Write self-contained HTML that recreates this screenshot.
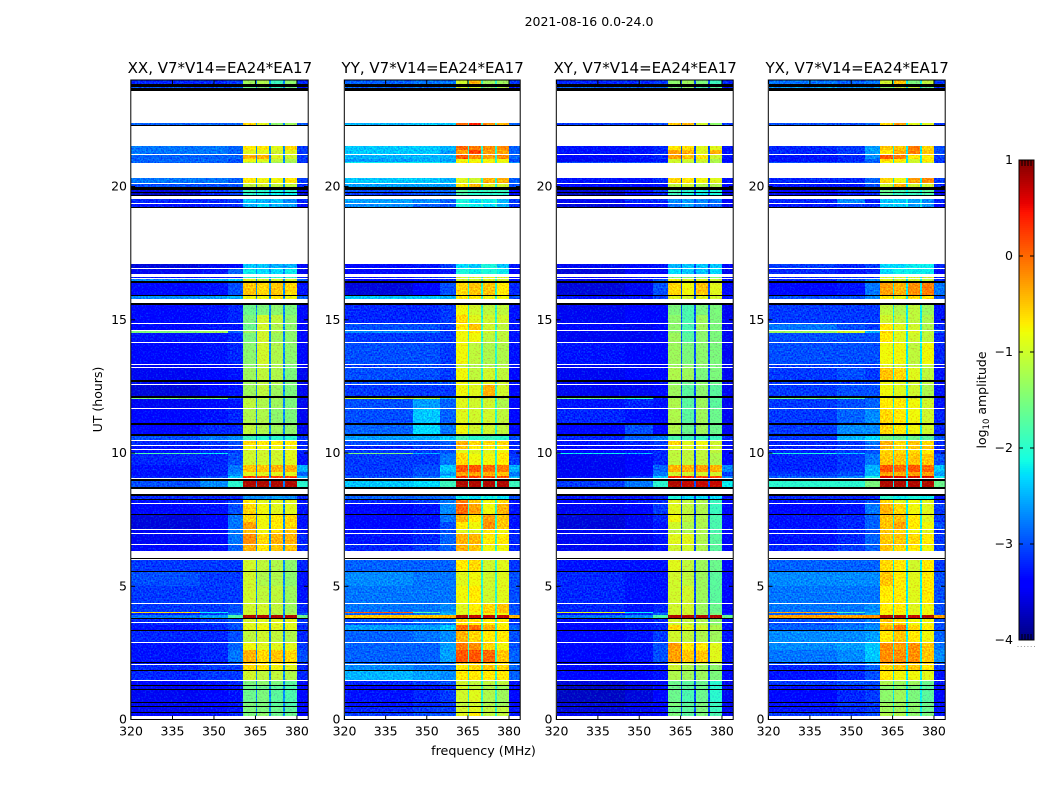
<!DOCTYPE html>
<html>
<head>
<meta charset="utf-8">
<title>2021-08-16 0.0-24.0</title>
<style>
html,body{margin:0;padding:0;background:#fff;}
svg{display:block;}
text{font-family:"DejaVu Sans","Liberation Sans",sans-serif;fill:#000;}
</style>
</head>
<body>
<svg id="chart" width="1050" height="800" viewBox="0 0 1050 800" xmlns="http://www.w3.org/2000/svg">
  <defs>
    <filter id="speckle" x="0" y="0" width="100%" height="100%" color-interpolation-filters="sRGB">
      <feTurbulence type="fractalNoise" baseFrequency="0.62" numOctaves="1" seed="7" result="grain"/>
      <feColorMatrix in="grain" type="matrix" values="0 0 0 0 0.5  1.6 0 0 0 -0.3  0 0 0 0 0.5  0 0 0 0 1" result="greenGrain"/>
      <feComposite in="SourceGraphic" in2="greenGrain" operator="arithmetic" k1="0" k2="1" k3="0.55" k4="-0.275" result="mixed"/>
      <feComposite in="mixed" in2="SourceAlpha" operator="in"/>
    </filter>
  </defs>
  <text x="589" y="26" font-size="12.5" text-anchor="middle">2021-08-16 0.0-24.0</text>
  <text x="483.5" y="755" font-size="12.7" text-anchor="middle">frequency (MHz)</text>
  <text x="102" y="399.5" font-size="12.5" text-anchor="middle" transform="rotate(-90 102 399.5)">UT (hours)</text>
  <text x="986" y="400" font-size="12.5" text-anchor="middle" transform="rotate(-90 986 400)">log<tspan font-size="8.5" dy="3">10</tspan><tspan dy="-3"> amplitude</tspan></text>
</svg>
<script>
// Frequency column edges (MHz): bgL, bgM, bgE, sb1, gap, sb2, gap, sb3, gap, sb4, bgR
const freqEdges = [320,345,355,360.6,365.2,365.5,369.9,370.5,375,375.6,380,384];
const freqTicks = [320,335,350,365,380];
const hourTicks = [0,5,10,15,20];
const colorTicks = [1,0,-1,-2,-3,-4];
const colorLabels = ['1','0','\u22121','\u22122','\u22123','\u22124'];
// Time bands with data [top hour, bottom hour]
const rowBands = [
[24.00,23.85],[23.73,23.70],[22.38,22.31],[21.52,21.37],[21.37,21.22],[21.18,21.05],[21.05,20.92],[20.92,20.88],
[20.32,20.13],[20.09,19.98],[19.87,19.79],[19.76,19.68],[19.53,19.38],[19.34,19.23],[17.09,16.94],[16.90,16.72],
[16.60,16.57],[16.53,16.45],[16.38,15.93],[15.89,15.78],[15.55,15.18],[15.18,14.88],[14.84,14.62],[14.58,14.52],
[14.52,14.17],[14.13,13.34],[13.30,13.23],[13.19,12.74],[12.66,12.59],[12.55,12.14],[12.06,12.02],[12.02,11.69],
[11.65,11.13],[11.05,10.71],[10.64,10.49],[10.45,10.30],[10.26,10.15],[10.11,10.00],[10.00,9.96],[9.96,9.55],
[9.55,9.29],[9.29,9.14],[9.14,9.06],[8.95,8.72],[8.39,8.27],[8.24,8.12],[8.09,7.71],[7.67,7.42],
[7.42,7.15],[7.11,7.00],[6.96,6.59],[6.55,6.32],[5.98,5.57],[5.53,5.00],[5.00,4.37],[4.33,4.03],
[4.03,4.00],[4.00,3.92],[3.92,3.81],[3.77,3.66],[3.62,3.56],[3.53,3.36],[3.32,2.91],[2.87,2.60],
[2.60,2.17],[2.14,2.08],[2.05,1.86],[1.82,1.48],[1.45,1.28],[1.24,1.13],[1.11,0.66],[0.62,0.51],
[0.47,0.28],[0.24,0.13]];
// Time bands flagged black (below colour range)
const blackBands = [
[23.85,23.73],[23.70,23.58],[22.31,22.27],[19.98,19.87],[19.79,19.76],[19.68,19.64],[19.23,19.19],[16.45,16.38],
[15.93,15.89],[15.63,15.55],[12.74,12.66],[12.14,12.06],[11.13,11.05],[10.71,10.64],[9.03,8.95],[8.72,8.65],
[8.46,8.39],[8.27,8.24],[7.71,7.67],[6.06,6.02],[5.57,5.53],[3.81,3.77],[3.36,3.32],[2.17,2.14],
[1.86,1.82],[1.28,1.24],[1.13,1.11],[0.66,0.62],[0.51,0.47],[0.28,0.24]];
// log10 amplitude per band: bgL,bgM,bgE,sb1,sb2,sb3,sb4,bgR
const xxValues = [
[-3.2,-3.2,-3.1,-1.3,-1.2,-1.9,-1.4,-3.2],[-3.0,-3.0,-2.9,-1.6,-1.5,-1.9,-1.6,-3.3],[-2.9,-2.9,-2.9,-0.6,-0.9,-1.4,-1.3,-3.0],[-2.8,-2.8,-2.9,-0.7,-0.7,-0.9,-0.6,-3.1],
[-2.8,-2.8,-2.9,-0.9,-0.9,-1.0,-0.9,-3.1],[-2.9,-2.9,-2.9,-0.4,-0.4,-0.9,-1.0,-3.1],[-2.9,-2.9,-3.0,-0.8,-0.9,-1.1,-1.2,-3.1],[-2.9,-2.9,-3.0,-1.2,-1.2,-1.3,-1.3,-3.2],
[-2.8,-2.8,-2.9,-0.7,-0.8,-0.8,-0.7,-3.1],[-3.0,-3.0,-3.0,-1.1,-1.0,-1.1,-1.1,-3.2],[-3.6,-3.1,-3.0,-1.9,-2.0,-2.1,-2.0,-3.5],[-3.7,-3.2,-3.1,-2.0,-2.1,-2.2,-2.2,-3.6],
[-3.2,-3.2,-3.1,-2.4,-2.5,-2.4,-2.7,-3.2],[-3.3,-3.2,-3.2,-2.5,-2.3,-2.5,-2.6,-3.4],[-3.6,-3.5,-3.4,-2.4,-2.4,-2.5,-2.5,-3.4],[-3.5,-3.3,-2.9,-2.2,-2.3,-2.3,-2.2,-3.5],
[-3.3,-3.3,-3.3,-2.0,-1.9,-2.0,-2.0,-3.3],[-2.7,-2.5,-2.4,-0.9,-1.0,-1.0,-1.0,-2.9],[-3.4,-3.3,-3.0,-0.5,-0.6,-0.5,-0.6,-3.3],[-2.7,-2.6,-2.5,-0.8,-0.8,-0.7,-0.8,-2.9],
[-3.4,-3.3,-3.2,-1.6,-1.5,-1.4,-1.5,-3.4],[-3.4,-3.3,-3.2,-1.5,-1.0,-1.1,-1.4,-3.4],[-3.4,-3.3,-3.3,-1.6,-1.0,-1.2,-1.4,-3.4],[-1.5,-1.3,-2.9,-1.3,-1.0,-1.2,-1.4,-3.4],
[-3.3,-3.3,-3.2,-1.5,-1.0,-1.3,-1.4,-3.4],[-3.4,-3.3,-3.2,-1.4,-1.0,-1.2,-1.4,-3.4],[-3.5,-3.4,-3.3,-1.4,-1.1,-1.2,-1.5,-3.4],[-3.5,-3.4,-3.3,-1.3,-1.1,-1.2,-1.5,-3.5],
[-3.5,-3.4,-3.3,-1.3,-1.1,-1.2,-1.5,-3.5],[-3.6,-3.4,-3.3,-1.3,-1.1,-1.3,-1.5,-3.5],[-1.5,-1.6,-3.0,-1.2,-1.1,-1.3,-1.5,-3.4],[-3.5,-3.4,-3.3,-1.1,-1.2,-1.3,-1.5,-3.5],
[-3.4,-3.3,-3.2,-1.2,-1.2,-1.4,-1.5,-3.5],[-3.4,-3.2,-3.2,-1.1,-1.2,-1.3,-1.4,-3.5],[-3.0,-2.8,-2.7,-1.9,-2.0,-2.0,-2.0,-3.1],[-3.2,-3.1,-3.0,-0.6,-0.7,-0.7,-0.7,-3.2],
[-3.3,-3.2,-3.1,-0.8,-0.8,-0.8,-0.8,-3.2],[-3.3,-3.2,-3.1,-1.0,-1.0,-1.0,-0.9,-3.2],[-1.8,-2.2,-3.0,-1.0,-1.0,-1.0,-0.9,-3.2],[-3.2,-3.2,-3.0,-1.0,-1.0,-1.0,-0.9,-3.3],
[-3.3,-3.2,-2.8,-0.5,-0.5,-0.4,-0.4,-2.5],[-3.3,-3.2,-2.7,-0.9,-0.9,-0.9,-0.9,-2.9],[-3.2,-3.0,-2.4,0.3,0.2,0.2,0.2,-2.5],[-3.0,-2.7,-2.0,0.8,0.8,0.8,0.8,-2.0],
[-3.2,-3.2,-3.2,-2.7,-2.7,-2.6,-2.7,-3.2],[-3.3,-3.3,-3.1,-0.7,-0.9,-0.9,-0.9,-3.3],[-3.4,-3.3,-3.0,-0.6,-0.8,-0.9,-0.9,-3.3],[-3.6,-3.4,-2.8,-0.6,-0.8,-0.7,-0.6,-3.3],
[-3.6,-3.4,-2.8,-0.3,-0.8,-0.7,-0.6,-3.3],[-3.5,-3.4,-2.8,-0.5,-0.8,-0.6,-0.5,-3.3],[-3.5,-3.4,-2.8,-0.2,-0.6,-0.4,-0.4,-3.2],[-3.4,-3.3,-2.9,-0.4,-0.7,-0.5,-0.5,-3.2],
[-3.1,-3.1,-3.1,-1.0,-1.1,-1.2,-1.4,-3.2],[-3.0,-3.1,-3.1,-1.0,-1.2,-1.2,-1.4,-3.3],[-3.1,-3.1,-3.1,-1.0,-1.1,-1.1,-1.3,-3.3],[-3.1,-3.1,-3.0,-1.0,-1.0,-1.1,-1.3,-3.2],
[-0.6,-2.2,-3.0,-1.0,-1.0,-1.1,-1.3,-3.2],[-3.2,-3.1,-2.8,-1.0,-1.0,-1.2,-1.2,-3.0],[-2.8,-2.6,-1.8,0.8,0.8,0.8,0.8,-1.6],[-3.2,-3.1,-3.0,-1.0,-0.9,-0.9,-0.9,-3.1],
[-3.2,-3.1,-3.0,-0.9,-0.9,-0.9,-0.9,-3.1],[-3.3,-3.2,-3.0,-0.9,-0.8,-0.9,-0.9,-3.2],[-3.2,-3.2,-3.0,-1.1,-1.0,-1.1,-1.2,-3.2],[-3.3,-3.2,-2.9,-0.8,-0.9,-0.9,-0.9,-3.1],
[-3.3,-3.2,-2.8,-0.4,-0.6,-0.5,-0.6,-3.0],[-3.3,-3.3,-3.0,-0.5,-0.7,-0.7,-0.8,-3.2],[-3.2,-3.1,-3.1,-0.6,-0.7,-0.8,-0.9,-3.2],[-3.2,-3.1,-3.1,-1.0,-1.1,-1.1,-1.2,-3.2],
[-3.4,-3.3,-3.2,-1.5,-1.4,-1.5,-1.7,-3.4],[-3.5,-3.4,-3.3,-1.6,-1.6,-1.7,-1.8,-3.4],[-3.5,-3.4,-3.3,-1.6,-1.5,-1.7,-1.8,-3.4],[-3.5,-3.4,-3.3,-1.5,-1.5,-1.7,-1.8,-3.4],
[-3.5,-3.4,-3.3,-1.5,-1.5,-1.6,-1.7,-3.4],[-3.4,-3.3,-3.2,-1.5,-1.4,-1.6,-1.6,-3.4]];
const yyValues = [
[-2.9,-2.8,-2.8,-1.0,-0.4,-1.3,-1.3,-3.1],[-2.9,-2.9,-2.8,-1.0,-1.0,-1.4,-1.2,-3.2],[-2.5,-2.4,-2.4,0.0,0.4,-0.2,-0.4,-2.9],[-2.4,-2.4,-2.5,0.0,-0.1,-0.2,-0.2,-2.9],
[-2.4,-2.4,-2.6,-0.3,0.2,-0.3,-0.3,-2.9],[-2.5,-2.5,-2.5,0.1,-0.2,-0.3,-0.2,-2.9],[-2.6,-2.5,-2.6,-0.8,-0.8,-0.8,-0.8,-3.0],[-2.2,-2.2,-2.3,-0.7,-0.7,-0.7,-0.9,-2.7],
[-2.4,-2.4,-2.5,-0.9,-1.0,-0.4,-0.4,-2.9],[-2.6,-2.6,-2.6,-0.7,-0.4,-0.9,-1.0,-3.0],[-3.0,-2.9,-2.9,-1.7,-1.9,-1.9,-1.9,-3.4],[-3.1,-3.0,-2.9,-1.8,-2.0,-2.0,-2.0,-3.4],
[-2.6,-2.7,-2.9,-2.1,-2.3,-2.2,-2.5,-3.1],[-2.7,-2.9,-3.0,-2.1,-2.2,-2.3,-2.5,-3.2],[-3.4,-3.3,-3.1,-2.3,-2.4,-2.1,-2.4,-3.3],[-3.4,-3.4,-3.3,-2.1,-2.2,-2.1,-2.2,-3.4],
[-3.3,-3.2,-3.2,-1.0,-1.0,-0.9,-1.0,-3.3],[-3.4,-3.3,-3.2,-1.0,-1.0,-0.9,-1.0,-3.4],[-3.6,-3.4,-3.0,-0.6,-0.5,-0.5,-0.7,-3.2],[-2.4,-2.4,-2.5,-0.7,-0.7,-0.8,-0.8,-3.0],
[-3.2,-3.2,-3.1,-0.8,-1.0,-1.1,-1.1,-3.3],[-3.2,-3.2,-3.1,-0.6,-0.9,-1.0,-1.0,-3.3],[-3.0,-3.0,-3.1,-0.7,-0.5,-1.0,-1.1,-3.3],[-2.7,-2.8,-3.1,-0.8,-0.7,-1.0,-1.1,-3.3],
[-3.1,-3.1,-3.1,-0.8,-0.8,-1.1,-1.1,-3.3],[-3.0,-3.0,-3.1,-0.8,-1.1,-1.2,-1.2,-3.3],[-3.1,-3.1,-3.1,-1.1,-1.2,-1.2,-1.2,-3.3],[-3.0,-3.0,-3.1,-0.8,-1.1,-1.0,-1.1,-3.4],
[-3.0,-3.0,-3.0,-0.8,-0.9,-0.9,-1.0,-3.3],[-3.1,-3.1,-3.1,-0.8,-0.9,-0.4,-1.0,-3.4],[-1.0,-1.1,-2.5,-0.9,-1.0,-1.1,-1.1,-3.3],[-3.0,-2.6,-2.9,-0.9,-1.0,-1.0,-1.2,-3.4],
[-3.0,-2.4,-2.9,-0.9,-1.0,-1.0,-1.1,-3.4],[-2.9,-2.3,-2.8,-0.8,-1.0,-1.0,-1.1,-3.4],[-2.6,-2.5,-2.4,-1.8,-2.0,-1.9,-2.0,-3.0],[-3.0,-3.0,-2.9,-0.4,-0.6,-0.6,-0.6,-3.2],
[-3.2,-3.1,-3.0,-0.5,-0.7,-0.7,-0.7,-3.2],[-3.1,-3.1,-3.0,-0.9,-0.9,-0.9,-0.8,-3.2],[-1.5,-2.5,-2.9,-0.7,-0.9,-0.9,-0.7,-3.2],[-3.1,-3.1,-2.8,-0.6,-0.8,-0.8,-0.7,-3.1],
[-3.1,-3.0,-2.4,0.1,0.1,0.0,-0.1,-2.5],[-3.1,-3.0,-2.6,-0.3,-0.3,-0.4,-0.5,-2.8],[-3.0,-2.8,-2.3,0.3,0.2,0.2,0.2,-2.5],[-2.4,-2.3,-1.9,0.8,0.8,0.8,0.8,-1.9],
[-2.9,-2.9,-2.8,-2.2,-2.3,-2.2,-2.3,-3.0],[-3.2,-3.1,-2.8,-0.1,-0.5,-0.8,-0.6,-3.3],[-3.4,-3.3,-2.7,0.0,-0.3,-0.8,-0.4,-3.3],[-3.4,-3.3,-2.8,-0.4,-0.7,-0.3,-0.5,-3.3],
[-3.4,-3.3,-3.0,-0.7,-0.8,-0.2,-0.5,-3.3],[-3.3,-3.2,-3.0,-0.9,-0.9,-0.7,-0.8,-3.2],[-3.3,-3.2,-2.9,-0.4,-0.4,-0.7,-0.7,-3.2],[-3.2,-3.1,-2.9,-0.4,-0.5,-0.8,-0.8,-3.2],
[-2.9,-2.9,-2.9,-0.7,-0.6,-1.0,-0.9,-3.1],[-2.7,-2.8,-2.8,-0.9,-0.8,-1.0,-0.9,-3.0],[-2.8,-2.8,-2.8,-0.8,-0.7,-1.0,-0.9,-3.0],[-2.8,-2.8,-2.7,-0.9,-0.7,-0.6,-0.5,-3.0],
[0.1,-1.7,-2.6,-0.9,-0.8,-0.5,-0.5,-3.0],[-2.9,-2.8,-2.5,-0.9,-0.8,-0.8,-0.8,-2.9],[-0.5,-0.5,-0.4,0.8,0.7,0.7,0.7,-0.4],[-3.0,-2.9,-2.8,-0.6,-0.7,-0.7,-0.7,-3.1],
[-3.0,-2.9,-2.8,-0.7,-0.7,-0.7,-0.8,-3.1],[-2.6,-2.6,-2.4,0.0,0.0,-0.4,-0.7,-2.9],[-2.9,-2.8,-2.7,-0.4,-0.6,-0.7,-0.7,-3.0],[-2.9,-2.9,-2.6,-0.1,-0.2,-0.6,-0.8,-3.0],
[-2.9,-2.9,-2.6,0.1,0.1,0.0,-0.5,-2.9],[-2.9,-2.9,-2.8,-0.5,-0.5,-0.6,-0.7,-2.9],[-2.7,-2.8,-2.8,-0.7,-0.6,-0.5,-0.6,-2.9],[-2.5,-2.6,-2.7,-0.7,-0.7,-0.7,-0.7,-2.9],
[-3.2,-3.1,-3.0,-1.0,-1.1,-1.1,-1.1,-3.3],[-3.4,-3.3,-3.2,-1.0,-1.1,-1.2,-1.3,-3.4],[-3.3,-3.2,-3.1,-1.0,-0.9,-1.2,-1.3,-3.4],[-3.3,-3.2,-3.1,-1.1,-1.0,-1.2,-1.3,-3.4],
[-3.2,-3.1,-3.1,-1.0,-0.9,-1.1,-1.1,-3.3],[-3.1,-3.0,-3.0,-0.9,-0.7,-1.1,-1.1,-3.3]];
const xyValues = [
[-3.2,-3.2,-3.1,-1.4,-1.3,-1.5,-1.9,-3.2],[-2.9,-2.9,-2.9,-1.5,-1.4,-1.8,-1.7,-3.3],[-3.1,-3.1,-3.0,-0.5,-0.4,-1.0,-1.4,-3.1],[-3.3,-3.3,-3.2,-0.7,-0.6,-0.9,-0.9,-3.3],
[-3.3,-3.3,-3.2,-0.3,-0.4,-0.9,-0.4,-3.3],[-3.4,-3.3,-3.2,-0.3,-0.5,-0.7,-1.0,-3.3],[-3.5,-3.4,-3.3,-1.0,-1.0,-1.0,-1.2,-3.4],[-3.0,-3.0,-3.0,-1.0,-1.1,-1.1,-1.2,-3.2],
[-3.3,-3.3,-3.2,-0.6,-0.7,-0.8,-0.9,-3.3],[-3.4,-3.4,-3.3,-1.1,-1.0,-1.2,-1.2,-3.4],[-3.6,-3.3,-3.1,-1.8,-2.0,-2.1,-2.0,-3.5],[-3.7,-3.4,-3.2,-1.9,-2.1,-2.2,-2.1,-3.6],
[-3.5,-3.2,-3.2,-2.7,-2.6,-2.7,-2.8,-3.4],[-3.6,-3.4,-3.3,-2.8,-2.6,-2.8,-2.9,-3.5],[-3.5,-3.4,-3.3,-2.5,-2.4,-2.4,-2.4,-3.4],[-3.6,-3.4,-3.4,-2.3,-2.4,-2.4,-2.3,-3.5],
[-3.4,-3.3,-3.3,-1.5,-1.5,-1.5,-1.5,-3.4],[-3.5,-3.3,-3.0,-0.8,-0.9,-0.9,-1.0,-3.3],[-3.6,-3.5,-3.0,-0.6,-0.8,-0.5,-0.9,-3.4],[-3.3,-3.3,-3.1,-0.9,-1.0,-0.9,-1.0,-3.3],
[-3.5,-3.4,-3.4,-1.5,-1.8,-1.5,-1.5,-3.5],[-3.5,-3.4,-3.4,-1.4,-1.8,-1.3,-1.5,-3.5],[-3.4,-3.5,-3.4,-1.4,-1.8,-1.3,-1.5,-3.5],[-3.5,-3.5,-3.4,-1.4,-1.8,-1.4,-1.5,-3.5],
[-3.5,-3.5,-3.4,-1.3,-1.7,-1.4,-1.5,-3.5],[-3.3,-3.4,-3.4,-1.3,-1.5,-1.4,-1.5,-3.5],[-3.5,-3.5,-3.4,-1.3,-1.4,-1.4,-1.5,-3.5],[-3.5,-3.4,-3.4,-1.2,-1.3,-1.5,-1.5,-3.5],
[-3.5,-3.5,-3.4,-1.4,-1.6,-1.4,-1.6,-3.5],[-3.5,-3.5,-3.4,-1.3,-1.7,-1.4,-1.7,-3.5],[-1.6,-2.0,-3.2,-1.3,-1.7,-1.3,-1.7,-3.5],[-3.3,-3.2,-3.3,-1.2,-1.7,-1.3,-1.7,-3.5],
[-3.2,-3.3,-3.4,-1.2,-1.7,-1.3,-1.6,-3.5],[-3.4,-3.0,-3.4,-1.2,-1.6,-1.3,-1.6,-3.5],[-3.2,-2.9,-2.8,-1.8,-1.9,-1.9,-1.9,-3.2],[-3.3,-3.2,-3.1,-0.6,-0.9,-0.8,-1.0,-3.3],
[-3.4,-3.3,-3.2,-0.9,-0.9,-0.9,-1.0,-3.4],[-3.4,-3.3,-3.2,-1.1,-1.1,-1.1,-1.1,-3.4],[-2.2,-2.5,-3.2,-1.1,-1.1,-1.1,-1.2,-3.4],[-3.5,-3.4,-3.2,-1.1,-1.1,-1.1,-1.2,-3.4],
[-3.5,-3.4,-2.9,-0.4,-0.4,-0.3,-0.4,-2.7],[-3.5,-3.4,-2.8,-1.0,-1.0,-1.0,-1.0,-3.1],[-3.4,-3.1,-2.4,0.3,0.3,0.2,0.2,-2.7],[-3.1,-2.8,-2.0,0.8,0.7,0.7,0.7,-2.2],
[-3.3,-3.3,-3.2,-2.1,-2.3,-2.3,-2.3,-3.3],[-3.4,-3.3,-3.2,-0.9,-1.1,-1.2,-1.9,-3.4],[-3.5,-3.4,-3.1,-0.9,-1.1,-1.2,-1.9,-3.4],[-3.6,-3.5,-3.2,-0.8,-1.1,-1.2,-1.8,-3.4],
[-3.6,-3.5,-3.3,-1.0,-1.2,-1.2,-1.8,-3.4],[-3.5,-3.5,-3.3,-1.1,-1.2,-1.2,-1.8,-3.4],[-3.5,-3.5,-3.3,-0.9,-0.9,-1.2,-1.7,-3.4],[-3.5,-3.5,-3.3,-1.0,-1.0,-1.2,-1.7,-3.4],
[-3.3,-3.3,-3.3,-0.9,-1.1,-1.3,-1.6,-3.4],[-3.2,-3.3,-3.3,-1.0,-1.1,-1.3,-1.7,-3.4],[-3.2,-3.3,-3.3,-1.0,-1.0,-1.3,-1.7,-3.4],[-3.2,-3.3,-3.2,-1.0,-1.0,-1.3,-1.6,-3.4],
[-0.9,-2.2,-3.1,-1.0,-1.0,-1.3,-1.6,-3.4],[-3.3,-3.2,-2.9,-1.0,-1.0,-1.3,-1.5,-3.2],[-2.8,-2.7,-1.8,0.8,0.8,0.8,0.8,-1.6],[-3.4,-3.3,-3.2,-1.0,-1.1,-1.2,-1.4,-3.3],
[-3.4,-3.3,-3.2,-1.0,-1.1,-1.2,-1.4,-3.3],[-3.4,-3.3,-3.2,-0.6,-0.9,-1.0,-1.2,-3.3],[-3.4,-3.3,-3.1,-1.0,-1.1,-1.2,-1.3,-3.3],[-3.4,-3.3,-3.0,-0.3,-0.7,-0.7,-0.9,-3.3],
[-3.4,-3.3,-3.0,-0.3,-0.5,-0.5,-0.9,-3.3],[-3.5,-3.4,-3.2,-0.9,-1.1,-1.1,-1.2,-3.4],[-3.4,-3.4,-3.3,-1.0,-1.2,-1.3,-1.4,-3.4],[-3.4,-3.4,-3.3,-1.2,-1.3,-1.3,-1.5,-3.4],
[-3.6,-3.5,-3.4,-1.6,-1.7,-1.6,-2.0,-3.5],[-3.7,-3.6,-3.4,-1.6,-1.7,-1.6,-2.0,-3.5],[-3.7,-3.6,-3.4,-1.6,-1.8,-1.6,-2.0,-3.5],[-3.6,-3.5,-3.4,-1.5,-1.7,-1.5,-1.9,-3.5],
[-3.6,-3.5,-3.4,-1.6,-1.7,-1.5,-1.9,-3.5],[-3.5,-3.5,-3.4,-1.5,-1.7,-1.5,-1.8,-3.5]];
const yxValues = [
[-2.8,-2.9,-2.8,-1.0,-0.5,-1.5,-1.1,-3.1],[-2.6,-2.7,-2.7,-1.4,-1.1,-1.1,-1.6,-3.2],[-3.0,-3.0,-2.9,-0.6,-0.3,-0.9,-0.9,-3.1],[-3.2,-3.1,-2.6,-0.5,-0.5,-0.1,-0.6,-3.0],
[-3.2,-3.1,-2.6,-0.7,-0.4,-0.1,-0.5,-3.0],[-3.3,-3.2,-2.7,0.1,-0.1,-0.7,-0.7,-3.1],[-3.3,-3.2,-2.9,-0.6,-0.7,-1.0,-0.7,-3.1],[-3.0,-3.0,-2.9,-0.8,-0.9,-1.0,-1.0,-3.1],
[-3.2,-3.2,-2.9,-0.6,-0.8,-0.3,-0.2,-3.1],[-3.3,-3.3,-3.0,-1.0,-0.4,-1.0,-1.0,-3.2],[-3.4,-3.2,-3.1,-1.6,-1.8,-1.8,-1.7,-3.5],[-3.5,-3.3,-3.2,-1.7,-1.9,-1.9,-1.8,-3.5],
[-3.2,-2.7,-3.2,-2.4,-2.4,-2.6,-2.7,-3.2],[-3.3,-3.1,-3.2,-2.4,-2.4,-2.6,-2.7,-3.4],[-3.1,-3.2,-3.1,-2.3,-2.3,-2.2,-2.2,-3.2],[-3.2,-3.3,-3.2,-2.3,-2.2,-2.2,-2.2,-3.4],
[-3.2,-3.2,-3.2,-1.0,-1.0,-1.0,-1.0,-3.3],[-3.2,-3.0,-2.7,-0.9,-1.0,-1.0,-1.1,-3.2],[-3.4,-3.3,-2.8,-0.3,-0.4,-0.2,-0.1,-2.8],[-3.0,-3.0,-2.7,-0.7,-0.8,-0.6,-0.7,-3.0],
[-3.1,-3.1,-3.1,-1.1,-1.2,-1.1,-1.3,-3.3],[-3.1,-3.1,-3.1,-1.0,-1.1,-1.1,-1.2,-3.3],[-2.8,-3.0,-3.1,-0.7,-0.9,-1.0,-1.2,-3.2],[-1.3,-1.0,-2.5,-0.6,-0.9,-0.9,-1.1,-3.0],
[-3.0,-3.0,-3.0,-0.7,-0.9,-1.0,-1.1,-3.2],[-3.0,-3.0,-3.0,-0.8,-0.8,-1.1,-0.8,-3.2],[-3.1,-3.1,-3.1,-0.9,-1.0,-1.1,-1.1,-3.3],[-3.1,-3.0,-3.1,-0.5,-0.6,-0.9,-1.1,-3.3],
[-3.1,-3.1,-3.1,-0.8,-0.9,-1.0,-1.1,-3.3],[-3.1,-3.0,-3.0,-0.8,-0.9,-1.0,-1.2,-3.3],[-1.6,-1.8,-2.9,-0.8,-0.9,-1.0,-1.2,-3.3],[-3.1,-3.0,-2.9,-0.7,-0.7,-0.8,-1.0,-3.3],
[-3.1,-2.9,-2.7,-0.6,-0.7,-0.8,-1.0,-3.2],[-3.1,-2.7,-2.7,-0.6,-0.7,-0.8,-1.0,-3.2],[-3.1,-2.5,-2.3,-1.5,-1.6,-1.6,-1.7,-3.0],[-3.2,-3.1,-2.8,-0.4,-0.6,-0.5,-0.6,-3.2],
[-3.2,-3.1,-2.9,-0.4,-0.6,-0.5,-0.5,-3.2],[-3.2,-3.1,-3.0,-0.6,-0.6,-0.6,-0.7,-3.2],[-2.1,-2.4,-2.9,-0.6,-0.6,-0.6,-0.7,-3.2],[-3.2,-3.1,-2.8,-0.5,-0.5,-0.5,-0.5,-3.0],
[-3.2,-3.1,-2.5,0.1,0.0,0.1,0.0,-2.4],[-3.1,-3.0,-2.5,-0.3,-0.4,-0.3,-0.3,-2.6],[-2.9,-2.7,-2.1,0.6,0.6,0.6,0.6,-2.2],[-2.0,-2.0,-1.5,0.8,0.8,0.8,0.8,-1.6],
[-3.2,-3.2,-3.2,-2.0,-2.2,-2.1,-2.2,-3.3],[-3.3,-3.2,-3.0,-0.6,-0.9,-0.8,-0.9,-3.2],[-3.4,-3.3,-2.8,-0.4,-0.6,-0.8,-0.9,-3.1],[-3.3,-3.2,-2.9,-0.5,-0.5,-0.7,-0.9,-3.1],
[-3.3,-3.2,-2.9,-0.5,-0.3,-0.7,-0.8,-3.0],[-3.3,-3.2,-3.0,-0.5,-0.6,-0.8,-0.9,-3.2],[-3.3,-3.2,-2.9,-0.5,-0.5,-0.6,-0.7,-3.1],[-3.2,-3.1,-2.9,-0.5,-0.6,-0.7,-0.8,-3.1],
[-2.9,-2.9,-2.9,-0.6,-0.7,-1.0,-0.7,-3.1],[-2.7,-2.7,-2.7,-0.5,-0.7,-0.9,-0.7,-3.0],[-2.8,-2.8,-2.8,-0.7,-0.7,-0.9,-0.7,-3.0],[-2.8,-2.8,-2.7,-0.7,-0.7,-0.9,-0.8,-3.0],
[-0.3,-1.8,-2.6,-0.7,-0.7,-0.8,-0.8,-3.0],[-2.9,-2.8,-2.5,-0.8,-0.8,-0.9,-0.8,-3.0],[-0.3,-0.3,-0.2,0.8,0.8,0.7,0.8,-0.3],[-3.0,-2.9,-2.8,-0.5,-0.6,-0.8,-0.8,-3.0],
[-3.0,-2.9,-2.8,-0.6,-0.6,-0.8,-0.8,-3.0],[-2.9,-2.8,-2.7,-0.4,-0.1,-0.6,-0.7,-3.0],[-2.7,-2.7,-2.6,-0.7,-0.5,-0.7,-0.8,-2.9],[-2.7,-2.6,-2.4,-0.2,-0.3,-0.2,-0.5,-2.8],
[-2.8,-2.7,-2.4,-0.2,-0.2,-0.2,-0.5,-2.7],[-3.0,-2.9,-2.7,-0.3,-0.4,-0.5,-0.6,-3.0],[-3.2,-3.1,-2.9,-0.6,-0.5,-0.5,-0.7,-3.1],[-3.3,-3.2,-3.0,-0.7,-0.8,-0.8,-0.9,-3.3],
[-3.1,-3.0,-3.0,-1.2,-1.3,-1.3,-1.6,-3.3],[-3.3,-3.2,-3.1,-1.4,-1.4,-1.5,-1.7,-3.4],[-3.4,-3.2,-3.1,-1.4,-1.3,-1.5,-1.7,-3.4],[-3.3,-3.1,-3.1,-1.3,-1.3,-1.4,-1.6,-3.3],
[-3.3,-3.2,-3.1,-1.3,-1.3,-1.4,-1.6,-3.3],[-3.1,-3.1,-3.0,-1.2,-1.2,-1.4,-1.5,-3.3]];
// Gap channel amplitude between sub-bands, one per panel: XX, YY, XY, YX
const gapValues = [-2.7,-2.0,-3.0,-2.2];
const panelTitles = ['XX, V7*V14=EA24*EA17','YY, V7*V14=EA24*EA17','XY, V7*V14=EA24*EA17','YX, V7*V14=EA24*EA17'];
const panelKeys = ['xx','yy','xy','yx'];
const panelValues = [xxValues,yyValues,xyValues,yxValues];
const panelLeft = [131,344.5,556.5,768.5];
const panelRight = [308,520,733,945];

const NS = 'http://www.w3.org/2000/svg';
const svg = document.getElementById('chart');
const axisTop = 80, axisBottom = 719.5;
const hourMax = 24;
const freqMin = 320, freqMax = 384;
const cbLeft = 1019, cbRight = 1034, cbTop = 160, cbBottom = 640;

function jet(v){
  const t = Math.max(0, Math.min(1, (v + 4) / 5));
  function ramp(pts){
    for(let i = 1; i < pts.length; i++){
      if(t <= pts[i][0]){
        const a = pts[i-1], b = pts[i];
        return a[1] + (b[1] - a[1]) * (t - a[0]) / (b[0] - a[0]);
      }
    }
    return pts[pts.length-1][1];
  }
  const r = ramp([[0,0],[0.35,0],[0.66,1],[0.89,1],[1,0.5]]);
  const g = ramp([[0,0],[0.125,0],[0.375,1],[0.64,1],[0.91,0],[1,0]]);
  const b = ramp([[0,0.5],[0.11,1],[0.34,1],[0.65,0],[1,0]]);
  return 'rgb(' + Math.round(r*255) + ',' + Math.round(g*255) + ',' + Math.round(b*255) + ')';
}
function yOfHour(h){ return axisBottom - (h / hourMax) * (axisBottom - axisTop); }
function make(tag, attrs, parent){
  const el = document.createElementNS(NS, tag);
  for(const k in attrs){ el.setAttribute(k, attrs[k]); }
  parent.appendChild(el);
  return el;
}

panelKeys.forEach(function(key, p){
  const x0 = panelLeft[p], x1 = panelRight[p];
  const xOfFreq = function(f){ return x0 + (f - freqMin) / (freqMax - freqMin) * (x1 - x0); };
  const g = make('g', {}, svg);
  
  
  const cells = make('g', {filter:'url(#speckle)'}, g);
  
  

  // column index -> value index (gaps are the narrow columns between sub-bands)
  const columnValue = function(row, c){
    if(c === 4 || c === 6 || c === 8){ return gapValues[p]; }
    if(c < 4){ return row[c]; }
    if(c === 5){ return row[4]; }
    if(c === 7){ return row[5]; }
    if(c === 9){ return row[6]; }
    return row[7];
  };
  rowBands.forEach(function(band, r){
    const row = panelValues[p][r];
    if(!row){ return; }
    const yTop = Math.round(yOfHour(band[0]));
    const yBot = Math.max(yTop + 1, Math.round(yOfHour(band[1])));
    for(let c = 0; c < freqEdges.length - 1; c++){
      const xa = Math.round(xOfFreq(freqEdges[c]));
      const xb = Math.max(xa + 1, Math.round(xOfFreq(freqEdges[c+1])));
      const cell = make('rect', {x:xa, y:yTop, width:xb-xa, height:yBot-yTop, fill:jet(columnValue(row,c)), 'shape-rendering':'crispEdges'}, cells);
      
      
    }
  });
  blackBands.forEach(function(band){
    const yTop = Math.round(yOfHour(band[0]));
    const yBot = Math.max(yTop + 1, Math.round(yOfHour(band[1])));
    const bar = make('rect', {x:Math.round(x0), y:yTop, width:Math.round(x1)-Math.round(x0), height:yBot-yTop, fill:'#000', 'shape-rendering':'crispEdges'}, g);
    
    
  });

  const frame = make('rect', {x:x0-0.2, y:axisTop, width:x1-x0+0.4, height:axisBottom-axisTop, fill:'none', stroke:'#000', 'stroke-width':1}, g);
  
  

  freqTicks.forEach(function(f){
    const x = xOfFreq(f);
    const t1 = make('line', {x1:x, x2:x, y1:axisBottom, y2:axisBottom-4, stroke:'#000', 'stroke-width':1}, g);
    
    
    const t2 = make('line', {x1:x, x2:x, y1:axisTop, y2:axisTop+4, stroke:'#000', 'stroke-width':1}, g);
    
    
    const lab = make('text', {x:x, y:axisBottom+16, 'font-size':12.5, 'text-anchor':'middle'}, g);
    
    
    lab.textContent = String(f);
  });
  hourTicks.forEach(function(h){
    const y = yOfHour(h);
    const t1 = make('line', {x1:x0, x2:x0+4, y1:y, y2:y, stroke:'#000', 'stroke-width':1}, g);
    
    
    const t2 = make('line', {x1:x1, x2:x1-4, y1:y, y2:y, stroke:'#000', 'stroke-width':1}, g);
    
    
    const lab = make('text', {x:x0-4, y:y+4, 'font-size':12.5, 'text-anchor':'end'}, g);
    
    
    lab.textContent = String(h);
  });
  const title = make('text', {x:(x0+x1)/2+0.4, y:73, 'font-size':15, 'text-anchor':'middle'}, g);
  
  
  title.textContent = panelTitles[p];
});

// Colour bar
const cb = make('g', {}, svg);


const cbSteps = 240;
for(let i = 0; i < cbSteps; i++){
  const yA = cbTop + (cbBottom - cbTop) * i / cbSteps;
  const v = 1 - 5 * (i + 0.5) / cbSteps;
  const s = make('rect', {x:cbLeft, y:yA, width:cbRight-cbLeft, height:(cbBottom-cbTop)/cbSteps+0.5, fill:jet(v), 'shape-rendering':'crispEdges'}, cb);
  
  
}
const cbFrame = make('rect', {x:cbLeft, y:cbTop, width:cbRight-cbLeft, height:cbBottom-cbTop, fill:'none', stroke:'#000', 'stroke-width':1}, cb);


colorTicks.forEach(function(v, i){
  const y = cbTop + (1 - v) / 5 * (cbBottom - cbTop);
  const a = make('line', {x1:cbLeft, x2:cbLeft+4, y1:y, y2:y, stroke:'#000', 'stroke-width':1}, cb);
  
  
  const b = make('line', {x1:cbRight, x2:cbRight-4, y1:y, y2:y, stroke:'#000', 'stroke-width':1}, cb);
  
  
  const lab = make('text', {x:cbLeft-6, y:y+4, 'font-size':12.5, 'text-anchor':'end'}, cb);
  
  
  lab.textContent = colorLabels[i];
});
for(let i = 1; i <= 4; i++){
  const x = cbLeft + (cbRight - cbLeft) * i / 5;
  const a = make('line', {x1:x, x2:x, y1:cbTop, y2:cbTop+6, stroke:'#000', 'stroke-width':1}, cb);
  
  
  const b = make('line', {x1:x, x2:x, y1:cbBottom, y2:cbBottom-6, stroke:'#000', 'stroke-width':1}, cb);
  
  
}
for(let i = 0; i < 6; i++){
  const d = make('rect', {x:1017.5+i*3.3, y:646, width:1, height:1, fill:'#999'}, cb);
  
  
}
</script>
</body>
</html>
